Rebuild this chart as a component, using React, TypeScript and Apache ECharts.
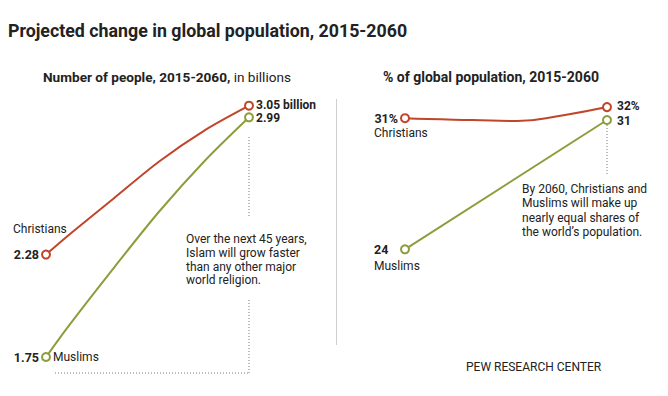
import React, { useEffect, useRef } from "react";
import * as echarts from "echarts";

// ---- Data ----
const years = [2015, 2020, 2030, 2040, 2050, 2060];
const christiansBillions = [2.28, 2.38, 2.57, 2.76, 2.92, 3.05];
const muslimsBillions = [1.75, 1.91, 2.21, 2.5, 2.76, 2.99];
const christiansShare = [31.2, 31.15, 31.1, 31.05, 31.35, 31.8];
const muslimsShareYears = [2015, 2060];
const muslimsShare = [24.1, 31.1];

const TITLE = "Projected change in global population, 2015-2060";
const SUB_LEFT_BOLD = "Number of people, 2015-2060,";
const SUB_LEFT_NORMAL = " in billions";
const SUB_RIGHT = "% of global population, 2015-2060";
const NOTE_LEFT = ["Over the next 45 years,", "Islam will grow faster", "than any other major", "world religion."];
const NOTE_RIGHT = ["By 2060, Christians and", "Muslims will make up", "nearly equal shares of", "the world\u2019s population."];
const SOURCE = "PEW RESEARCH CENTER";

const RED = "#c0452a";
const GREEN = "#8e9d3c";
const TXT = "#222";
const HEAD = "Roboto, 'Liberation Sans', sans-serif";
const BODY = "Roboto, 'Liberation Sans', sans-serif";

function mkSeries(xs: number[], ys: number[], color: string, grid: number, smooth: number) {
  const last = xs.length - 1;
  return {
    type: "line",
    xAxisIndex: grid,
    yAxisIndex: grid,
    smooth,
    showAllSymbol: true,
    symbolSize: 8,
    lineStyle: { color, width: 2 },
    itemStyle: { color, borderWidth: 1.5 },
    emphasis: { disabled: true },
    z: 3,
    data: xs.map((x, i) => ({
      value: [x, ys[i]],
      symbol: i === 0 || i === last ? "emptyCircle" : "none",
    })),
  };
}

export default function App() {
  const ref = useRef<HTMLDivElement>(null);
  useEffect(() => {
    if (!ref.current) return;
    const chart = echarts.init(ref.current, undefined, { renderer: "svg" });
    const axisX = (gi: number) => ({ type: "value", gridIndex: gi, min: 2015, max: 2060, show: false });
    chart.setOption({
      animation: false,
      grid: [
        { left: 46, top: 105.7, width: 203, height: 251.3 },
        { left: 405, top: 107.1, width: 202, height: 142.2 },
      ],
      xAxis: [axisX(0), axisX(1)],
      yAxis: [
        { type: "value", gridIndex: 0, min: 1.75, max: 3.05, show: false },
        { type: "value", gridIndex: 1, min: 24.1, max: 31.8, show: false },
      ],
      series: [
        mkSeries(years, christiansBillions, RED, 0, 0.3),
        mkSeries(years, muslimsBillions, GREEN, 0, 0.3),
        mkSeries(years, christiansShare, RED, 1, 0.5),
        mkSeries(muslimsShareYears, muslimsShare, GREEN, 1, 0),
      ],
    });

    const px = (gi: number, x: number, y: number) =>
      chart.convertToPixel({ gridIndex: gi } as any, [x, y]) as number[];
    const n = years.length - 1;
    const cL0 = px(0, years[0], christiansBillions[0]);
    const cL1 = px(0, years[n], christiansBillions[n]);
    const mL0 = px(0, years[0], muslimsBillions[0]);
    const mL1 = px(0, years[n], muslimsBillions[n]);
    const cR0 = px(1, years[0], christiansShare[0]);
    const cR1 = px(1, years[n], christiansShare[n]);
    const mR0 = px(1, muslimsShareYears[0], muslimsShare[0]);
    const mR1 = px(1, muslimsShareYears[1], muslimsShare[1]);

    const t = (x: number, y: number, text: string, o: any = {}) => ({
      type: "text",
      x,
      y,
      silent: true,
      style: {
        text,
        fill: TXT,
        font: o.font || `12px ${BODY}`,
        align: o.align || "left",
        verticalAlign: o.va || "middle",
      },
    });
    const bold = (s: number) => `bold ${s}px ${HEAD}`;
    const dot = (x1: number, y1: number, x2: number, y2: number) => ({
      type: "line",
      silent: true,
      shape: { x1, y1, x2, y2 },
      style: { stroke: "#777", lineWidth: 1, lineDash: [1, 2] },
    });

    const elements: any[] = [
      t(8, 30, TITLE, { font: bold(17.8) }),
      {
        type: "text",
        x: 43,
        y: 77,
        silent: true,
        style: {
          text: `{b|${SUB_LEFT_BOLD}}{n|${SUB_LEFT_NORMAL}}`,
          verticalAlign: "middle",
          rich: {
            b: { font: bold(13.6), fill: TXT },
            n: { font: `13.6px ${HEAD}`, fill: TXT },
          },
        },
      },
      t(383, 77, SUB_RIGHT, { font: bold(14) }),
      // left labels
      t(cL1[0] + 7, cL1[1] - 1, `${christiansBillions[n].toFixed(2)} billion`, { font: bold(12) }),
      t(mL1[0] + 7, mL1[1] + 0.5, muslimsBillions[n].toFixed(2), { font: bold(12) }),
      t(cL0[0] - 7, cL0[1], christiansBillions[0].toFixed(2), { font: bold(12.5), align: "right" }),
      t(13, cL0[1] - 26, "Christians"),
      t(mL0[0] - 7, mL0[1], muslimsBillions[0].toFixed(2), { font: bold(12.5), align: "right" }),
      t(mL0[0] + 7, mL0[1], "Muslims"),
      // right labels
      t(cR0[0] - 7, cR0[1], `${Math.round(christiansShare[0])}%`, { font: bold(12.5), align: "right" }),
      t(374, cR0[1] + 15, "Christians"),
      t(cR1[0] + 10, cR1[1] - 1, `${Math.round(christiansShare[n])}%`, { font: bold(12) }),
      t(mR1[0] + 10, mR1[1] + 0.5, `${Math.round(muslimsShare[1])}`, { font: bold(12) }),
      t(374, mR0[1], `${Math.round(muslimsShare[0])}`, { font: bold(12.5) }),
      t(374, mR0[1] + 16.5, "Muslims"),
      // notes
      ...NOTE_LEFT.map((s, i) => t(186, 239 + i * 13.8, s)),
      ...NOTE_RIGHT.map((s, i) => t(522, 189 + i * 14.3, s)),
      t(466, 367, SOURCE),
      // dotted leaders
      dot(cL1[0], 137, cL1[0], 218),
      dot(cL1[0], 300, cL1[0], 373),
      dot(55, 373, cL1[0], 373),
      dot(cR1[0], 125, cR1[0], 175),
      // separator
      {
        type: "line",
        silent: true,
        shape: { x1: 336.5, y1: 99, x2: 336.5, y2: 345 },
        style: { stroke: "#cfcfcf", lineWidth: 1 },
      },
    ];
    chart.setOption({ graphic: { elements } });
    return () => chart.dispose();
  }, []);
  return (
    <div
      ref={ref}
      style={{ position: "absolute", left: 0, top: 0, width: 668, height: 396, background: "#fff" }}
    />
  );
}
